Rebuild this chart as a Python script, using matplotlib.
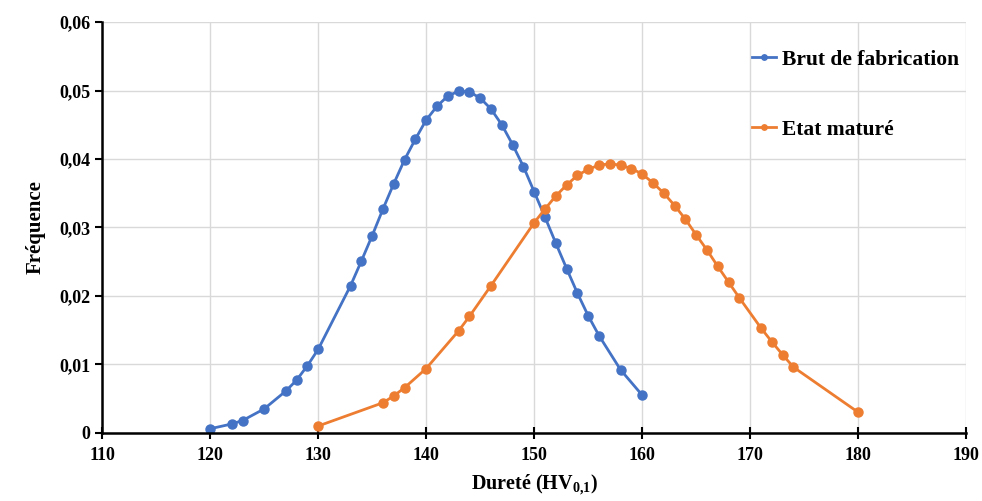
import matplotlib.pyplot as plt

plt.rcParams['font.family'] = ['Liberation Serif', 'DejaVu Serif']
plt.rcParams['font.weight'] = 'bold'
plt.rcParams['mathtext.fontset'] = 'custom'
plt.rcParams['mathtext.rm'] = 'Liberation Serif:bold'
plt.rcParams['mathtext.bf'] = 'Liberation Serif:bold'

# ================== données ==================
x_brut = [120, 122, 123, 125, 127, 128, 129, 130, 133, 134, 135, 136, 137, 138,
          139, 140, 141, 142, 143, 144, 145, 146, 147, 148, 149, 150, 151, 152,
          153, 154, 155, 156, 158, 160]
y_brut = [0.0006, 0.0013, 0.0018, 0.0035, 0.0061, 0.0077, 0.0098, 0.0122, 0.0215,
          0.0251, 0.0288, 0.0327, 0.0364, 0.0399, 0.0429, 0.0457, 0.0477, 0.0492,
          0.0499, 0.0498, 0.0489, 0.0473, 0.0450, 0.0421, 0.0389, 0.0352, 0.0315,
          0.0277, 0.0240, 0.0204, 0.0171, 0.0142, 0.0092, 0.0055]

x_mature = [130, 136, 137, 138, 140, 143, 144, 146, 150, 151, 152, 153, 154, 155,
            156, 157, 158, 159, 160, 161, 162, 163, 164, 165, 166, 167, 168, 169,
            171, 172, 173, 174, 180]
y_mature = [0.0010, 0.0044, 0.0054, 0.0066, 0.0094, 0.0149, 0.0170, 0.0215, 0.0307,
            0.0327, 0.0346, 0.0362, 0.0376, 0.0385, 0.0391, 0.0393, 0.0391, 0.0386,
            0.0378, 0.0365, 0.0350, 0.0332, 0.0312, 0.0289, 0.0267, 0.0243, 0.0220,
            0.0197, 0.0153, 0.0133, 0.0114, 0.0096, 0.0030]

y_ticks = [0, 0.01, 0.02, 0.03, 0.04, 0.05, 0.06]
y_labels = ['0', '0,01', '0,02', '0,03', '0,04', '0,05', '0,06']
x_ticks = list(range(110, 191, 10))

# ================== figure ==================
fig = plt.figure(figsize=(9.82, 5.01), dpi=100)
ax = fig.add_axes([0.104, 0.136, 0.880, 0.820])

ax.plot(x_brut, y_brut, color='#4472C4', lw=2.0, marker='o', ms=6.5,
        label='Brut de fabrication')
ax.plot(x_mature, y_mature, color='#ED7D31', lw=2.0, marker='o', ms=6.5,
        label='Etat maturé')

ax.set_xlim(110, 190)
ax.set_ylim(0, 0.06)
ax.set_xticks(x_ticks)
ax.set_yticks(y_ticks)
ax.set_yticklabels(y_labels)
ax.tick_params(axis='x', direction='inout', length=8, width=1.5, labelsize=13, pad=6)
ax.tick_params(axis='y', direction='out', length=5, width=1.5, labelsize=13)
ax.grid(True, color='#d9d9d9', lw=1)
ax.set_axisbelow(True)

for s in ['top', 'right']:
    ax.spines[s].set_visible(False)
for s in ['left', 'bottom']:
    ax.spines[s].set_linewidth(1.8)

ax.set_xlabel(r'Dureté (HV$_{0{,}1}$)', fontsize=14.5, fontweight='bold', labelpad=6)
ax.set_ylabel('Fréquence', fontsize=15, fontweight='bold', labelpad=10)

ax.legend(loc='upper left', bbox_to_anchor=(0.730, 0.98), frameon=False,
          fontsize=15.5, handlelength=1.1, handletextpad=0.3, labelspacing=2.33,
          markerscale=0.6)

fig.savefig('out.png', dpi=100)
